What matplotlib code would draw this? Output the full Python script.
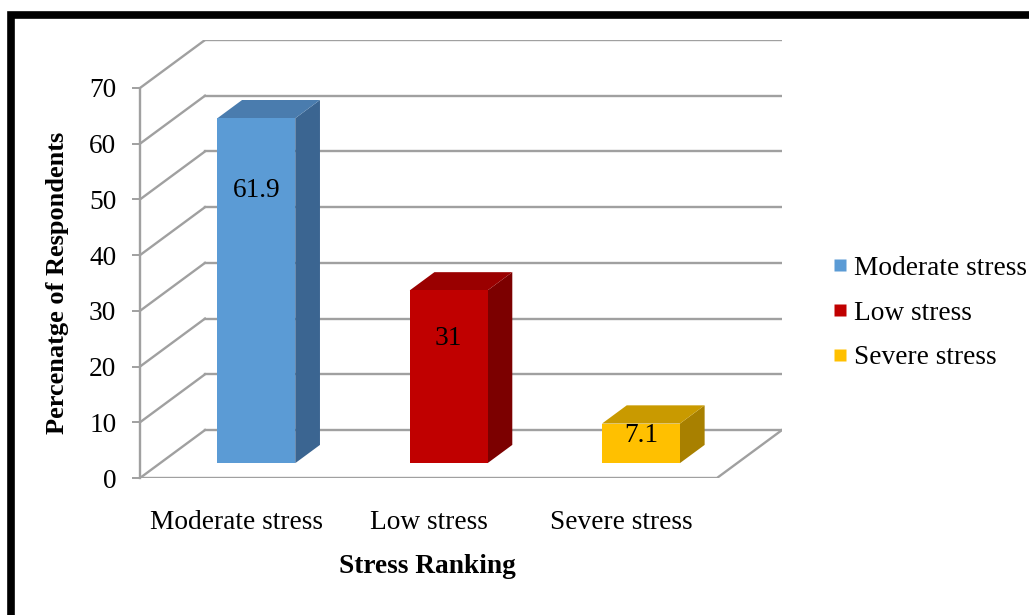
import matplotlib
matplotlib.use('Agg')
import matplotlib.pyplot as plt
from matplotlib.patches import Polygon, Rectangle
from matplotlib.lines import Line2D

plt.rcParams['font.family'] = ['Liberation Serif', 'DejaVu Serif']

# data
categories = ['Moderate stress', 'Low stress', 'Severe stress']
values = [61.9, 31, 7.1]
value_labels = ['61.9', '31', '7.1']
y_ticks = [0, 10, 20, 30, 40, 50, 60, 70]

# colours: front, top, side
front_colors = ['#5b9bd5', '#c00000', '#ffc000']
top_colors = ['#4a7cae', '#9a0000', '#c99a00']
side_colors = ['#3b6591', '#7c0000', '#a88000']

# pseudo-3D geometry (data units)
DX = 0.338     # full depth shift along x (category units)
DY = 8.61      # full depth shift along y (value units)
FRONT = 0.31   # depth where bar front face sits
BACK = 0.69    # depth where bar back face sits
BAR_W = 0.405
label_heights = [49.0, 22.4, 4.9]   # where Excel put the value labels
grid_col = '#a0a0a0'
FS = 19.7

fig = plt.figure(figsize=(10.29, 6.15), dpi=100, facecolor='white')
W, H = 1029, 615
ax = fig.add_axes([140 / W, (H - 478) / H, 642 / W, 438 / H])
ax.set_xlim(-0.5, 2.5 + DX)
ax.set_ylim(0, 70 + DY)
ax.patch.set_alpha(0)

# back wall + left wall gridlines
for v in y_ticks:
    ax.plot([-0.5, -0.5 + DX], [v, v + DY], color=grid_col, lw=1.7, zorder=1)
    ax.plot([-0.5 + DX, 2.5 + DX], [v + DY, v + DY], color=grid_col, lw=1.7, zorder=1)
# floor
ax.plot([-0.5, 2.5, 2.5 + DX], [0, 0, DY], color=grid_col, lw=1.7, zorder=1)

# bars
ddx = (BACK - FRONT) * DX
ddy = (BACK - FRONT) * DY
for i, v in enumerate(values):
    x0 = i - BAR_W / 2 + FRONT * DX
    y0 = FRONT * DY
    ax.add_patch(Polygon([(x0 + BAR_W, y0), (x0 + BAR_W, y0 + v),
                          (x0 + BAR_W + ddx, y0 + v + ddy), (x0 + BAR_W + ddx, y0 + ddy)],
                         closed=True, facecolor=side_colors[i], edgecolor='none', zorder=3))
    ax.add_patch(Polygon([(x0, y0 + v), (x0 + BAR_W, y0 + v),
                          (x0 + BAR_W + ddx, y0 + v + ddy), (x0 + ddx, y0 + v + ddy)],
                         closed=True, facecolor=top_colors[i], edgecolor='none', zorder=3))
    ax.add_patch(Rectangle((x0, y0), BAR_W, v, facecolor=front_colors[i],
                           edgecolor='none', zorder=4))
    ax.text(x0 + BAR_W / 2, y0 + label_heights[i], value_labels[i],
            ha='center', va='center', fontsize=FS, color='black', zorder=5)

# axes styling
for s in ['top', 'right', 'bottom']:
    ax.spines[s].set_visible(False)
ax.spines['left'].set_bounds(0, 70)
ax.spines['left'].set_color(grid_col)
ax.spines['left'].set_linewidth(1.7)
ax.spines['left'].set_zorder(2)

ax.set_yticks(y_ticks)
ax.set_yticklabels([str(t) for t in y_ticks])
ax.tick_params(axis='y', length=6, width=1.4, color=grid_col, pad=11,
               labelsize=FS, labelcolor='black')
ax.set_xticks(range(len(categories)))
ax.set_xticklabels(categories)
ax.tick_params(axis='x', length=0, pad=23, labelsize=FS, labelcolor='black')

ax.set_xlabel('Stress Ranking', fontsize=FS, fontweight='bold')
ax.xaxis.set_label_coords(0.447, -0.203)
ax.xaxis.label.set_va('center')
ax.set_ylabel('Percenatge of Respondents', fontsize=19, fontweight='bold')
ax.yaxis.set_label_coords(-0.129, 0.445)
ax.yaxis.label.set_va('center')

# legend
handles = [Line2D([], [], marker='s', linestyle='none', markersize=9,
                  markerfacecolor=c, markeredgecolor='none') for c in front_colors]
fig.legend(handles, categories, loc='center left',
           bbox_to_anchor=(832 / W, 1 - 313 / H), frameon=False,
           fontsize=FS, handlelength=0.6, handletextpad=0.22,
           labelspacing=0.71, borderpad=0, borderaxespad=0)

# thick black frame on top and left
fig.add_artist(Line2D([11 / W, 11 / W, 1.0], [0.0, 1 - 14.5 / H, 1 - 14.5 / H],
                      transform=fig.transFigure, color='black', lw=5.5,
                      solid_joinstyle='miter', solid_capstyle='butt'))

fig.savefig('out.png', dpi=100, facecolor='white')
